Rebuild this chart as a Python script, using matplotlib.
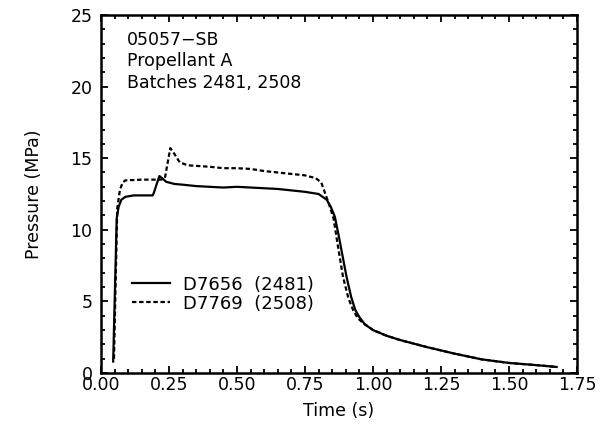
import matplotlib
matplotlib.use("Agg")
import matplotlib.pyplot as plt
from matplotlib.ticker import MultipleLocator

FONT_SIZE = 12.5

# D7656 (batch 2481) - solid
T_SOLID = [0.045, 0.058, 0.065, 0.075, 0.09, 0.12, 0.15, 0.19, 0.195, 0.205, 0.215,
           0.225, 0.24, 0.27, 0.30, 0.35, 0.40, 0.45, 0.50, 0.55, 0.60, 0.65, 0.70,
           0.75, 0.80, 0.83, 0.845, 0.86, 0.875, 0.89, 0.903, 0.92, 0.935, 0.95,
           0.97, 1.00, 1.05, 1.10, 1.20, 1.30, 1.40, 1.50, 1.60, 1.675]
P_SOLID = [0.8, 10.8, 11.6, 12.1, 12.3, 12.4, 12.4, 12.4, 12.6, 13.2, 13.75,
           13.6, 13.35, 13.2, 13.15, 13.05, 13.0, 12.95, 13.0, 12.95, 12.9, 12.85, 12.75,
           12.65, 12.5, 12.1, 11.6, 10.9, 9.5, 8.0, 6.7, 5.3, 4.4, 3.9,
           3.4, 3.0, 2.6, 2.3, 1.8, 1.35, 0.95, 0.7, 0.55, 0.42]

# D7769 (batch 2508) - dashed
T_DASH = [0.048, 0.06, 0.07, 0.08, 0.09, 0.15, 0.22, 0.235, 0.255, 0.27, 0.29,
          0.32, 0.40, 0.45, 0.50, 0.55, 0.60, 0.65, 0.70, 0.75, 0.79, 0.81, 0.825,
          0.84, 0.855, 0.87, 0.89, 0.91, 0.927, 0.945, 0.97, 1.00, 1.05, 1.10,
          1.20, 1.30, 1.40, 1.50, 1.60, 1.675]
P_DASH = [1.0, 11.5, 12.8, 13.3, 13.45, 13.5, 13.5, 13.6, 15.7, 15.3, 14.7,
          14.5, 14.4, 14.3, 14.3, 14.25, 14.1, 14.0, 13.9, 13.8, 13.6, 13.3, 12.5,
          11.7, 10.8, 9.0, 6.7, 5.2, 4.4, 3.8, 3.4, 3.0, 2.6, 2.3,
          1.8, 1.35, 0.95, 0.7, 0.55, 0.42]

LABELS = ["D7656  (2481)", "D7769  (2508)"]
NOTE = "05057\u2212SB\nPropellant A\nBatches 2481, 2508"

fig = plt.figure(figsize=(6.08, 4.30), dpi=100)
ax = fig.add_axes([0.166, 0.1326, 0.783, 0.8326])

ax.plot(T_SOLID, P_SOLID, color="black", linewidth=1.6, label=LABELS[0])
ax.plot(T_DASH, P_DASH, color="black", linewidth=1.6,
        linestyle=(0, (2, 1.2)), label=LABELS[1])

ax.set_xlim(0, 1.75)
ax.set_ylim(0, 25)
ax.xaxis.set_major_locator(MultipleLocator(0.25))
ax.xaxis.set_minor_locator(MultipleLocator(0.05))
ax.yaxis.set_major_locator(MultipleLocator(5))
ax.yaxis.set_minor_locator(MultipleLocator(1))
ax.xaxis.set_major_formatter(plt.FuncFormatter(lambda v, p: f"{v:.2f}"))

ax.tick_params(which="both", direction="in", top=True, right=True,
               labelsize=FONT_SIZE, width=1.3)
ax.tick_params(which="major", length=5)
ax.tick_params(which="minor", length=3)
ax.tick_params(axis="x", pad=2)
ax.tick_params(axis="y", pad=6)
for s in ax.spines.values():
    s.set_linewidth(1.8)

ax.set_xlabel("Time (s)", fontsize=FONT_SIZE, labelpad=6)
ax.set_ylabel("Pressure (MPa)", fontsize=FONT_SIZE, labelpad=20)

ax.text(0.055, 0.955, NOTE, transform=ax.transAxes, va="top", ha="left",
        fontsize=FONT_SIZE, linespacing=1.24)

ax.legend(loc="center left", bbox_to_anchor=(0.065, 0.22), frameon=False,
          fontsize=13, handlelength=2.1, handletextpad=0.72,
          labelspacing=0.05, borderpad=0, borderaxespad=0)

plt.savefig("out.png", dpi=100)
